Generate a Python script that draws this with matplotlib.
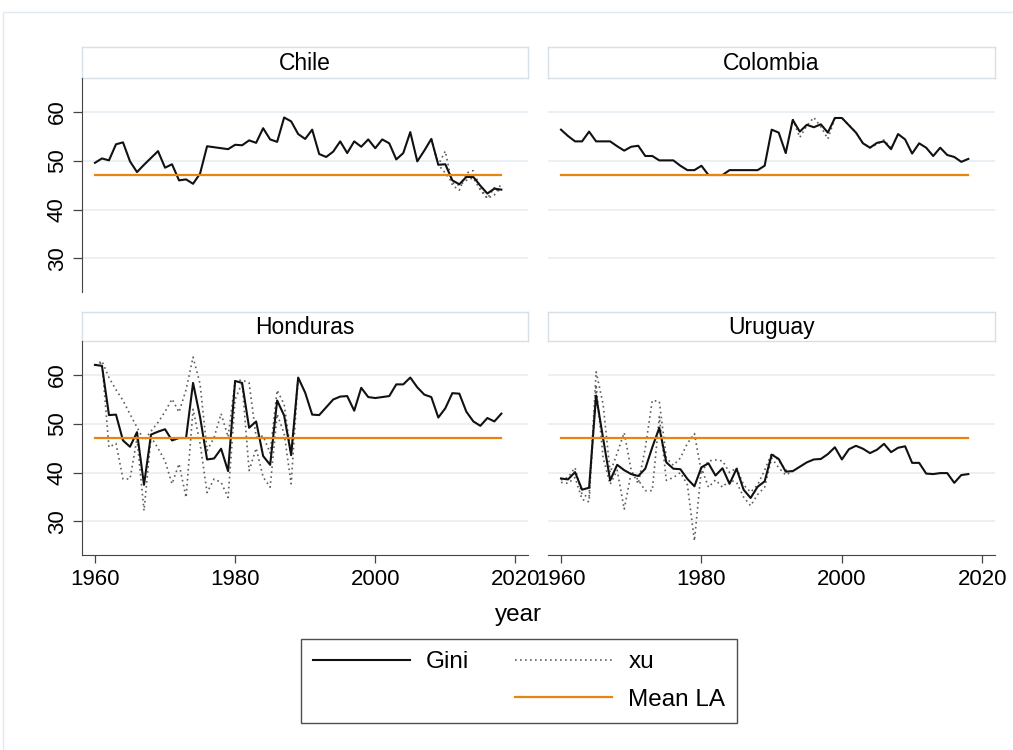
import numpy as np
import matplotlib
matplotlib.use("Agg")
import matplotlib.pyplot as plt
from matplotlib.lines import Line2D
from matplotlib.patches import Rectangle

plt.rcParams["font.family"] = ["Liberation Sans", "DejaVu Sans"]

years = np.arange(1960, 2019)
mean_la = 47.2

gini_chile = [49.6, 50.5, 50.1, 53.4, 53.8, 49.9, 47.7, 49.2, 50.6, 52.0,
              48.6, 49.3, 46.0, 46.2, 45.3, 47.4, 53.0, 52.8, 52.6, 52.4,
              53.3, 53.2, 54.2, 53.7, 56.7, 54.4, 53.9, 58.9, 58.1, 55.5,
              54.5, 56.4, 51.4, 50.8, 51.9, 54.0, 51.6, 54.0, 52.9, 54.4,
              52.6, 54.4, 53.6, 50.3, 51.6, 55.9, 49.9, 52.1, 54.5, 49.2,
              49.3, 46.0, 45.2, 46.7, 46.7, 44.9, 43.3, 44.3, 44.1]
gini_colombia = [56.4, 55.1, 54.0, 54.0, 56.0, 54.0, 54.0, 54.0, 53.0, 52.1,
                 52.9, 53.1, 51.0, 51.0, 50.1, 50.1, 50.1, 49.0, 48.1, 48.1,
                 49.0, 47.1, 47.1, 47.1, 48.1, 48.1, 48.1, 48.1, 48.1, 49.0,
                 56.4, 55.8, 51.6, 58.4, 56.0, 57.4, 56.9, 57.5, 55.8, 58.8,
                 58.8, 57.3, 55.8, 53.6, 52.7, 53.7, 54.0, 52.4, 55.5, 54.4,
                 51.5, 53.6, 52.7, 51.0, 52.7, 51.2, 50.8, 49.8, 50.4]
gini_honduras = [62.1, 61.9, 51.8, 51.9, 46.6, 45.3, 48.3, 37.5, 47.8, 48.4,
                 48.9, 46.6, 47.1, 47.1, 58.4, 51.4, 42.7, 42.9, 44.9, 40.3,
                 58.8, 58.4, 49.2, 50.5, 43.4, 41.6, 54.8, 51.7, 43.6, 59.5,
                 56.4, 51.9, 51.8, 53.4, 55.0, 55.6, 55.7, 52.7, 57.4, 55.5,
                 55.3, 55.5, 55.7, 58.1, 58.1, 59.5, 57.5, 56.0, 55.5, 51.3,
                 53.2, 56.3, 56.2, 52.5, 50.5, 49.6, 51.2, 50.5, 52.1]
gini_uruguay = [38.8, 38.6, 40.1, 36.5, 36.9, 55.8, 47.0, 38.4, 41.6, 40.5,
                39.7, 39.3, 40.8, 45.2, 49.2, 42.1, 40.8, 40.7, 38.7, 37.2,
                41.1, 41.9, 39.4, 40.9, 37.7, 40.8, 36.5, 34.8, 37.1, 38.2,
                43.7, 42.8, 40.2, 40.3, 41.2, 42.1, 42.7, 42.8, 43.8, 45.2,
                42.7, 44.8, 45.5, 44.9, 44.0, 44.7, 45.9, 44.2, 45.1, 45.4,
                42.0, 42.0, 39.8, 39.7, 39.9, 39.9, 37.9, 39.5, 39.7]

# xu only departs from Gini in these stretches; elsewhere the two coincide
xu_chile_years = np.arange(2008, 2019)
xu_chile = [54.5, 49.2, 52.0, 45.0, 44.0, 47.5, 48.0, 44.5, 42.3, 43.0, 45.3]
xu_chile_b = [54.5, 49.2, 47.5, 45.5, 45.0, 46.0, 46.5, 44.0, 42.3, 44.5, 43.5]

xu_colombia_years = np.arange(1992, 2009)
xu_colombia = [51.6, 58.6, 54.8, 57.2, 58.9, 57.0, 54.5, 58.8, 58.8, 57.3,
               55.8, 53.6, 52.7, 53.4, 54.3, 52.6, 55.5]

xu_honduras_years = np.arange(1960, 1990)
xu_honduras = [62.0, 62.9, 59.5, 57.0, 54.8, 52.0, 49.3, 46.6, 48.5, 50.3,
               52.5, 55.1, 52.4, 57.0, 63.7, 58.2, 44.5, 47.2, 52.1, 47.3,
               58.8, 59.0, 58.4, 47.3, 47.5, 44.0, 56.9, 54.0, 43.6, 59.5]
xu_honduras_b = [62.0, 62.5, 45.2, 46.0, 38.7, 38.7, 47.0, 32.2, 47.3, 45.0,
                 42.4, 37.7, 41.8, 34.9, 53.0, 46.0, 35.9, 38.7, 38.0, 34.9,
                 55.0, 58.4, 40.4, 45.0, 39.1, 37.0, 52.0, 48.0, 37.7, 59.5]

xu_uruguay_years = np.arange(1960, 1994)
xu_uruguay = [38.5, 39.0, 41.0, 35.5, 35.0, 60.7, 54.0, 40.0, 44.0, 48.2,
              40.5, 37.7, 45.0, 54.8, 54.6, 43.0, 41.5, 43.0, 46.0, 48.0,
              40.0, 42.4, 42.6, 42.4, 40.0, 41.0, 37.5, 36.0, 37.5, 40.5,
              44.0, 42.5, 40.5, 40.3]
xu_uruguay_b = [38.0, 37.8, 39.0, 34.5, 34.0, 58.0, 43.0, 37.6, 40.5, 32.5,
                40.0, 38.5, 36.3, 36.3, 51.5, 38.4, 39.0, 40.0, 37.5, 26.0,
                41.0, 37.0, 38.5, 37.0, 38.5, 38.0, 35.0, 33.2, 35.5, 37.0,
                43.0, 41.0, 39.5, 40.3]

W, H = 1013, 750
fig = plt.figure(figsize=(W / 100, H / 100), dpi=100)
fig.patches.append(Rectangle((3 / W, -0.1), 1.2, 1 - 12 / H + 0.1, transform=fig.transFigure,
                             fill=False, edgecolor="#e3eaef", lw=1.0))


def px_axes(x0, y0, x1, y1):
    return fig.add_axes([x0 / W, 1 - y1 / H, (x1 - x0) / W, (y1 - y0) / H])


line_col = "#111111"
dot_col = "#5e5e5e"
orange = "#e8850f"
axis_col = "#444444"

panels = [
    ("Chile", gini_chile, [(xu_chile_years, xu_chile), (xu_chile_years, xu_chile_b)], 82, 528, 47, 78, 292),
    ("Colombia", gini_colombia, [(xu_colombia_years, xu_colombia)], 548, 995, 47, 78, 292),
    ("Honduras", gini_honduras, [(xu_honduras_years, xu_honduras), (xu_honduras_years, xu_honduras_b)], 82, 528, 312, 341, 555),
    ("Uruguay", gini_uruguay, [(xu_uruguay_years, xu_uruguay), (xu_uruguay_years, xu_uruguay_b)], 548, 995, 312, 341, 555),
]

for i, (name, gini, xu_parts, x0, x1, s0, y0, y1) in enumerate(panels):
    # strip with the country name
    sax = px_axes(x0, s0, x1, y0)
    sax.set_xticks([])
    sax.set_yticks([])
    for sp in sax.spines.values():
        sp.set_color("#d5e0e8")
        sp.set_linewidth(1.0)
    sax.text(0.5, 0.48, name, ha="center", va="center", fontsize=16.5, transform=sax.transAxes)

    ax = px_axes(x0, y0, x1, y1)
    ax.set_xlim(1958.15, 2021.8)
    ax.set_ylim(23.1, 67.0)
    for g in [30, 40, 50, 60]:
        ax.axhline(g, color="#eaf0f4", lw=1.4, zorder=0)
    for xs, vals in xu_parts:
        ax.plot(xs, vals, color=dot_col, lw=1.2, linestyle=(0, (1, 2)), zorder=2)
    ax.plot(years, gini, color=line_col, lw=1.5, zorder=3)
    ax.plot([years[0], years[-1]], [mean_la, mean_la], color=orange, lw=1.6, zorder=4)

    for sp in ax.spines.values():
        sp.set_visible(False)
    left = i % 2 == 0
    bottom = i >= 2
    if left:
        ax.spines["left"].set_visible(True)
        ax.spines["left"].set_color(axis_col)
        ax.set_yticks([30, 40, 50, 60])
        ax.tick_params(axis="y", length=6.3, width=0.9, color=axis_col, pad=4, labelsize=16)
        plt.setp(ax.get_yticklabels(), rotation=90, va="center")
    else:
        ax.set_yticks([])
    if bottom:
        ax.spines["bottom"].set_visible(True)
        ax.spines["bottom"].set_color(axis_col)
        ax.set_xticks([1960, 1980, 2000, 2020])
        ax.tick_params(axis="x", length=5.8, width=0.9, color=axis_col, pad=4, labelsize=16)
    else:
        ax.set_xticks([])
    ax.patch.set_alpha(0)

fig.text(518 / W, 1 - 615 / H, "year", ha="center", va="center", fontsize=17.5)

h_gini = Line2D([], [], color=line_col, lw=1.5)
h_blank = Line2D([], [], color="none")
h_xu = Line2D([], [], color=dot_col, lw=1.2, linestyle=(0, (1, 2)))
h_mean = Line2D([], [], color=orange, lw=1.6)
leg = fig.legend([h_gini, h_blank, h_xu, h_mean], ["Gini", "", "xu", "Mean LA"],
                 ncol=2, loc="center", bbox_to_anchor=(519 / W, 1 - 681 / H),
                 fontsize=17.5, frameon=True, fancybox=False, handlelength=4.0,
                 handletextpad=0.65, columnspacing=1.9, labelspacing=0.62,
                 borderpad=0.5, borderaxespad=0)
leg.get_frame().set_edgecolor("#222222")
leg.get_frame().set_linewidth(1.0)

fig.savefig("out.png", dpi=100)
